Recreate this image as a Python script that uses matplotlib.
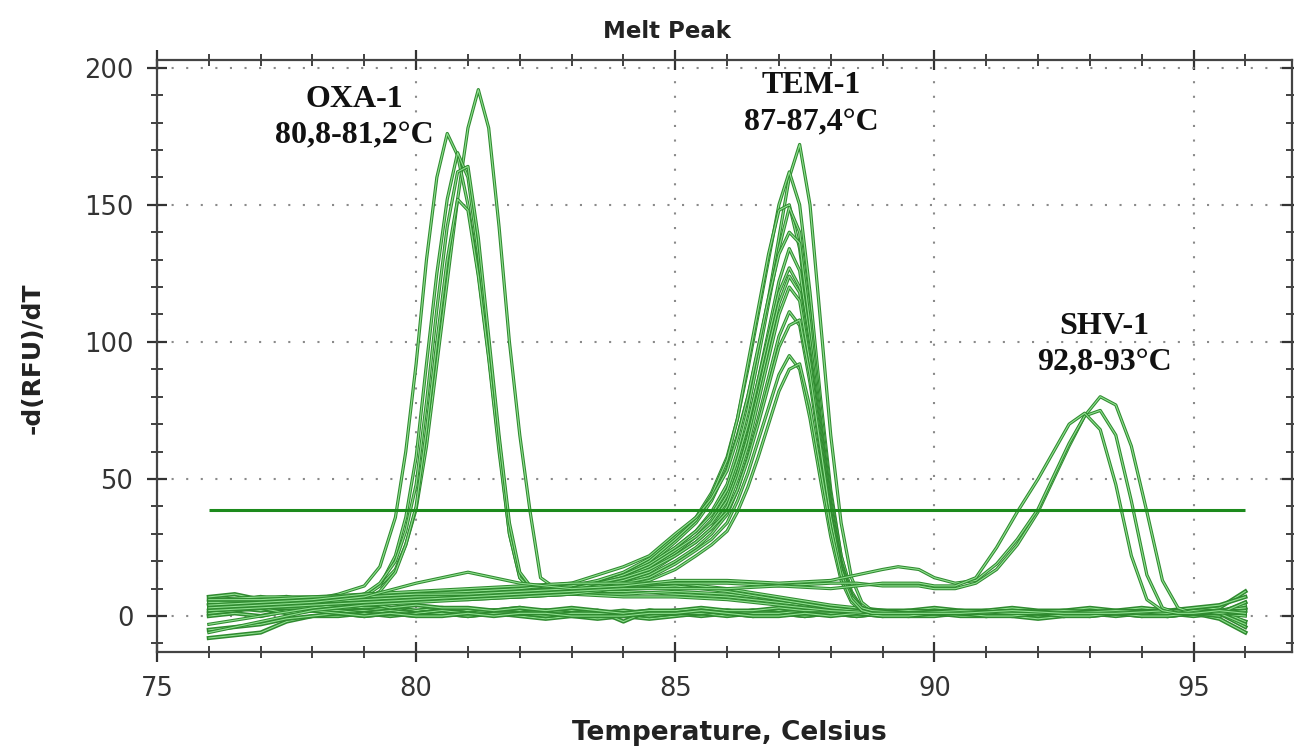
import numpy as np
import matplotlib
matplotlib.use("Agg")
import matplotlib.pyplot as plt
import matplotlib.patheffects as pe
from matplotlib.ticker import MultipleLocator

# ---- data ----
# baseline (no product) wells, sampled every 0.5 C from 76 to 96
base_t = np.arange(76.0, 96.01, 0.5)
base_curves = [
    [6, 5, 7, 5, 4, 4, 3, 3, 2, 3, 2, 2, 3, 1, 2, 1, 2, 1, 2, 2, 1, 2, 1, 2, 1,
     1, 2, 1, 1, 2, 1, 2, 1, 1, 2, 1, 2, 1, 2, 3, 9],
    [4, 6, 4, 5, 3, 3, 2, 3, 1, 2, 1, 2, 1, 2, 1, 1, 1, 2, 1, 1, 2, 1, 2, 1, 1,
     2, 1, 1, 2, 1, 2, 1, 1, 2, 1, 2, 1, 2, 1, 1, -4],
    [2, 3, 2, 3, 3, 2, 2, 1, 1, 2, 1, 1, 2, 0, 1, 0, 1, 0, 1, 0, 1, 0, 1, 0, 1,
     0, 1, 0, 0, 1, 0, 1, 0, 1, 0, 1, 0, 1, 0, 1, 5],
    [0, 1, 0, 2, 2, 2, 1, 2, 1, 1, 0, 1, 0, -1, 0, -1, 0, -1, 0, 1, 0, 1, 1, 0, 1,
     1, 0, 1, 1, 0, 0, 1, 1, 0, 1, 0, 1, 0, 1, -1, -6],
    [-8, -7, -6, -2, 0, 0, 1, 0, 1, 2, 1, 2, 1, 2, 1, 2, -2, 2, 1, 2, 1, 2, 1, 2, 1,
     0, 1, 1, 2, 1, 1, 0, -1, 0, 1, 1, 1, 0, 1, 2, 2],
    [-5, -4, -3, -1, 0, 1, 0, 1, 0, 1, 0, 1, 1, 0, 1, 1, 1, 0, 1, 1, 2, 1, 1, 2, 1,
     1, 1, 2, 1, 1, 1, 2, 1, 1, 2, 1, 1, 2, 1, 0, 3],
    [7, 8, 6, 7, 5, 4, 5, 3, 4, 3, 3, 2, 3, 2, 3, 2, 1, 2, 2, 3, 2, 2, 3, 2, 2,
     3, 2, 2, 3, 2, 2, 3, 2, 2, 3, 2, 3, 2, 3, 4, 7],
    [1, 2, 3, 1, 2, 1, 0, 1, 0, 0, 1, 0, 1, 1, 0, 0, 0, 1, 1, 2, 1, 0, 0, 1, 0,
     1, 0, 0, 1, 1, 0, 0, 1, 0, 0, 1, 0, 0, 1, 1, -2],
]

# OXA-1 wells
oxa_t = [76, 77, 78, 78.5, 79, 79.3, 79.6, 79.8, 80.0, 80.2, 80.4, 80.6, 80.8,
         81.0, 81.2, 81.4, 81.6, 81.8, 82.0, 82.2, 82.4, 82.7, 83, 84, 85, 86,
         87, 88, 89, 90, 92, 94, 96]
oxa_curves = [
    [3, 4, 5, 6, 8, 11, 17, 26, 39, 62, 92, 122, 152, 178, 192, 178, 142, 100,
     66, 38, 14, 10, 9, 9, 8, 7, 5, 3, 2, 2, 1, 1, 2],
    [5, 5, 6, 8, 11, 18, 36, 60, 92, 130, 160, 176, 168, 150, 125, 95, 62, 30,
     14, 10, 9, 9, 8, 8, 9, 8, 6, 3, 2, 1, 1, 2, 1],
    [4, 3, 4, 5, 7, 11, 22, 36, 58, 92, 125, 152, 169, 160, 132, 98, 64, 32,
     15, 11, 10, 9, 9, 10, 11, 9, 6, 3, 1, 1, 2, 1, 1],
    [2, 3, 3, 4, 6, 9, 16, 26, 40, 68, 100, 130, 152, 148, 124, 94, 60, 30,
     14, 10, 9, 8, 8, 7, 7, 6, 4, 2, 1, 2, 1, 1, 2],
    [3, 4, 5, 6, 8, 12, 20, 31, 48, 78, 112, 142, 162, 164, 138, 102, 66, 34,
     16, 11, 10, 10, 10, 11, 12, 10, 7, 4, 2, 1, 1, 2, 1],
]

# TEM-1 wells
tem_t = [76, 77, 78, 79, 80, 81, 82, 83, 83.5, 84, 84.5, 85, 85.4, 85.7, 86.0,
         86.2, 86.4, 86.6, 86.8, 87.0, 87.2, 87.4, 87.6, 87.8, 88.0, 88.2, 88.4,
         88.6, 88.8, 89.5, 90.5, 91.5, 92.5, 93.5, 94.5, 95.5, 96]
tem_curves = [
    [3, 4, 5, 6, 7, 8, 8, 9, 11, 14, 19, 27, 34, 42, 54, 66, 80, 97, 116, 138,
     160, 172, 150, 108, 66, 34, 14, 5, 2, 1, 1, 2, 1, 2, 1, 2, 1],
    [5, 6, 6, 7, 8, 9, 10, 11, 13, 16, 21, 29, 36, 45, 58, 72, 90, 110, 130, 150,
     162, 150, 118, 80, 46, 22, 8, 3, 2, 1, 2, 1, 2, 1, 2, 1, 3],
    [4, 5, 6, 7, 8, 8, 9, 10, 12, 15, 20, 28, 35, 44, 57, 72, 92, 112, 132, 148,
     150, 134, 104, 70, 40, 18, 7, 3, 1, 1, 1, 2, 1, 1, 2, 1, 2],
    [2, 3, 4, 5, 6, 7, 8, 10, 12, 14, 18, 25, 31, 38, 48, 60, 75, 94, 114, 134,
     149, 140, 110, 76, 44, 22, 9, 3, 2, 1, 2, 1, 1, 2, 1, 2, -2],
    [6, 7, 7, 8, 8, 9, 10, 12, 15, 18, 22, 30, 36, 43, 53, 65, 80, 98, 116, 132,
     140, 136, 106, 72, 42, 20, 8, 3, 1, 1, 1, 1, 2, 1, 1, 2, 4],
    [3, 4, 5, 5, 6, 7, 8, 9, 11, 13, 17, 23, 29, 35, 44, 55, 69, 86, 104, 122,
     134, 126, 100, 70, 40, 19, 7, 3, 2, 1, 1, 2, 1, 1, 2, 1, 0],
    [-3, 0, 3, 5, 6, 7, 8, 10, 12, 15, 19, 25, 31, 37, 46, 57, 70, 86, 102, 118,
     127, 120, 96, 68, 40, 19, 8, 3, 1, 1, 1, 1, 2, 1, 1, 2, 1],
    [5, 5, 6, 6, 7, 8, 9, 10, 12, 14, 18, 24, 29, 34, 42, 52, 65, 81, 98, 114,
     124, 118, 94, 66, 38, 18, 7, 2, 1, 2, 1, 2, 1, 2, 1, 1, 2],
    [4, 5, 5, 6, 7, 7, 9, 10, 11, 13, 16, 22, 27, 32, 40, 50, 62, 78, 94, 110,
     120, 115, 92, 64, 37, 17, 7, 3, 2, 1, 2, 1, 1, 1, 2, 1, 1],
    [2, 3, 4, 5, 6, 7, 7, 8, 10, 12, 15, 20, 25, 30, 37, 46, 58, 72, 87, 102,
     111, 106, 85, 60, 35, 16, 6, 2, 1, 1, 1, 2, 1, 2, 1, 2, 3],
    [6, 6, 7, 7, 8, 8, 9, 10, 12, 14, 17, 22, 27, 32, 38, 46, 57, 70, 84, 98,
     106, 108, 88, 62, 36, 17, 7, 3, 2, 1, 1, 1, 2, 1, 1, 1, -3],
    [3, 4, 4, 5, 6, 6, 7, 8, 10, 12, 14, 19, 24, 28, 34, 42, 52, 64, 76, 88,
     95, 90, 72, 50, 29, 13, 5, 2, 1, 1, 2, 1, 1, 2, 1, 2, 2],
    [-6, -2, 2, 4, 5, 6, 7, 8, 9, 11, 13, 17, 22, 26, 31, 38, 47, 58, 70, 82,
     90, 92, 76, 54, 32, 15, 6, 2, 1, 1, 1, 2, 1, 1, 2, 1, 5],
]

# SHV-1 wells
shv_t = [76, 77, 78, 79, 80, 81, 82, 83, 84, 85, 86, 87, 88, 88.5, 89, 89.3,
         89.7, 90.0, 90.4, 90.8, 91.2, 91.6, 92.0, 92.3, 92.6, 92.9, 93.2, 93.5,
         93.8, 94.1, 94.4, 94.7, 95, 95.5, 96]
shv_curves = [
    [4, 5, 6, 8, 9, 10, 11, 12, 12, 12, 12, 11, 12, 12, 11, 11, 11, 10, 10, 12,
     17, 26, 38, 50, 62, 73, 80, 77, 62, 38, 13, 3, 1, 2, 1],
    [3, 4, 5, 7, 12, 16, 12, 10, 11, 13, 13, 12, 13, 15, 17, 18, 17, 14, 12, 13,
     19, 28, 39, 51, 63, 73, 75, 66, 42, 15, 3, 1, 2, 1, 2],
    [2, 3, 4, 5, 6, 7, 8, 9, 10, 10, 10, 11, 10, 11, 12, 12, 12, 11, 11, 14,
     25, 38, 50, 60, 70, 74, 68, 48, 22, 6, 2, 1, 1, 2, 1],
]

threshold = 38.7
threshold_span = (76, 96)

labels = [
    ("OXA-1", "80,8-81,2°C", 78.8),
    ("TEM-1", "87-87,4°C", 87.63),
    ("SHV-1", "92,8-93°C", 93.28),
]
label_y = [(188.3, 175.2), (193.4, 180.0), (105.5, 92.3)]

# ---- plot ----
fig = plt.figure(figsize=(12.94, 7.49), dpi=100)
ax = fig.add_axes([157 / 1294, 1 - 652 / 749, (1292 - 157) / 1294, (652 - 60) / 749])

def draw(t, curves, halo=2.3):
    fx = [pe.Stroke(linewidth=halo, foreground="#2f8a2f"), pe.Normal()]
    for y in curves:
        ax.plot(t, y, color="#8fe08f", lw=0.8, path_effects=fx, zorder=3)

draw(base_t, base_curves, halo=3.0)
draw(oxa_t, oxa_curves)
draw(tem_t, tem_curves)
draw(shv_t, shv_curves)

ax.hlines(threshold, *threshold_span, color="#1c8a1c", lw=2.2, zorder=4)

for (name, rng, x), (y1, y2) in zip(labels, label_y):
    ax.text(x, y1, name, ha="center", va="center", fontsize=23,
            fontweight="bold", family="Liberation Serif", color="#111111")
    ax.text(x, y2, rng, ha="center", va="center", fontsize=23,
            fontweight="bold", family="Liberation Serif", color="#111111")

ax.set_xlim(75, 96.9)
ax.set_ylim(-13.1, 202.8)
ax.xaxis.set_major_locator(MultipleLocator(5))
ax.xaxis.set_minor_locator(MultipleLocator(1))
ax.yaxis.set_major_locator(MultipleLocator(50))
ax.yaxis.set_minor_locator(MultipleLocator(10))

ax.grid(True, which="major", color="#8a8a8a", lw=1.5, linestyle=(0, (1, 6)))
ax.tick_params(which="both", direction="inout", top=True, right=True,
               colors="#333333", labelsize=18.5)
ax.tick_params(which="major", length=14, width=1.6, pad=10)
ax.tick_params(which="minor", length=9, width=1.3)
for s in ax.spines.values():
    s.set_color("#444444")
    s.set_linewidth(1.6)

fig.text(729 / 1294, 1 - 733 / 749, "Temperature, Celsius", ha="center",
         va="center", fontsize=19, fontweight="bold", color="#222222")
fig.text(33 / 1294, 1 - 358 / 749, "-d(RFU)/dT", ha="center", va="center",
         rotation=90, fontsize=18, fontweight="bold", color="#222222")
fig.text(667 / 1294, 1 - 31 / 749, "Melt Peak", ha="center", va="center",
         fontsize=16.5, fontweight="bold", color="#222222")

fig.savefig("out.png", dpi=100)
